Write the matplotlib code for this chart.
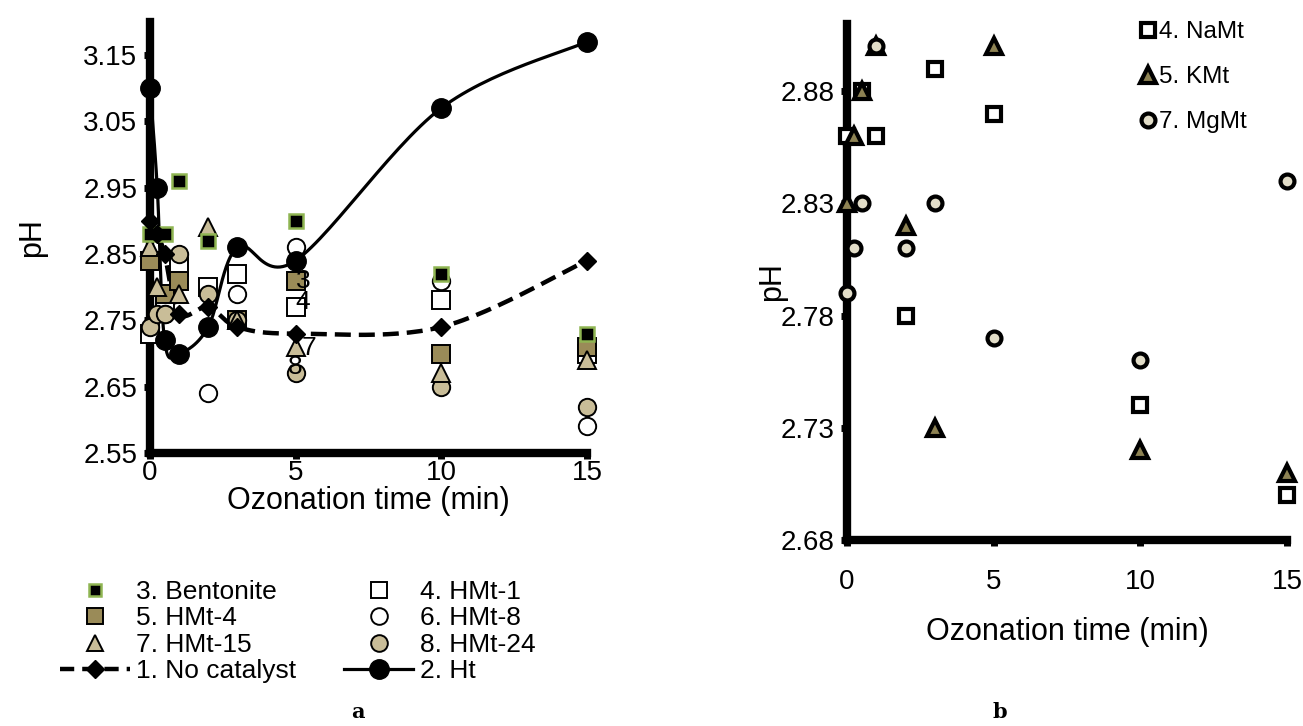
import numpy as np
import matplotlib.pyplot as plt
from matplotlib.lines import Line2D

plt.rcParams['font.family'] = ['Liberation Sans', 'DejaVu Sans']

# ---- panel a: pH vs ozonation time ----
no_cat_t = [0, 0.25, 0.5, 1, 2, 3, 5, 10, 15]
no_cat_ph = [2.90, 2.88, 2.85, 2.76, 2.77, 2.74, 2.73, 2.74, 2.84]

ht_t = [0, 0.25, 0.5, 1, 2, 3, 5, 10, 15]
ht_ph = [3.10, 2.95, 2.72, 2.70, 2.74, 2.86, 2.84, 3.07, 3.17]

bent_t = [0, 0.5, 1, 2, 5, 10, 15]
bent_ph = [2.88, 2.88, 2.96, 2.87, 2.90, 2.82, 2.73]

hmt1_t = [0, 0.5, 1, 2, 3, 5, 10, 15]
hmt1_ph = [2.73, 2.78, 2.83, 2.80, 2.82, 2.77, 2.78, 2.70]

hmt4_t = [0, 0.5, 1, 3, 5, 10, 15]
hmt4_ph = [2.84, 2.79, 2.81, 2.75, 2.81, 2.70, 2.71]

hmt8_t = [0.5, 2, 3, 5, 10, 15]
hmt8_ph = [2.76, 2.64, 2.79, 2.86, 2.81, 2.59]

hmt15_t = [0, 0.25, 1, 2, 3, 5, 10, 15]
hmt15_ph = [2.86, 2.80, 2.79, 2.89, 2.75, 2.71, 2.67, 2.69]

hmt24_t = [0, 0.25, 0.5, 1, 2, 3, 5, 10, 15]
hmt24_ph = [2.74, 2.76, 2.76, 2.85, 2.79, 2.75, 2.67, 2.65, 2.62]

# series numbers written next to the points at 5 min
tag_text = ['3', '4', '7', '8']
tag_t = [5.25, 5.25, 5.45, 5.0]
tag_ph = [2.81, 2.777, 2.708, 2.68]

# ---- panel b ----
namt_t = [0, 0.5, 1, 2, 3, 5, 10, 15]
namt_ph = [2.86, 2.88, 2.86, 2.78, 2.89, 2.87, 2.74, 2.70]

kmt_t = [0, 0.25, 0.5, 1, 2, 3, 5, 10, 15]
kmt_ph = [2.83, 2.86, 2.88, 2.90, 2.82, 2.73, 2.90, 2.72, 2.71]

mgmt_t = [0, 0.25, 0.5, 1, 2, 3, 5, 10, 15]
mgmt_ph = [2.79, 2.81, 2.83, 2.90, 2.81, 2.83, 2.77, 2.76, 2.84]

GREEN = '#8fb552'
OLIVE = '#9a8b58'
TAN = '#c9bd98'
KOLIVE = '#8d8253'
BEIGE = '#e2ddc8'


def smooth(x, y, sx, sy, n=30):
    # excel style smoothed line: cubic bezier with 1/6 neighbour tangents,
    # computed in screen-like units so the shape is not distorted
    P = np.column_stack([np.asarray(x) * sx, np.asarray(y) * sy])
    out = [P[:1]]
    s = np.linspace(0, 1, n)[1:, None]
    for i in range(len(P) - 1):
        p0 = P[i - 1] if i > 0 else P[i]
        p1, p2 = P[i], P[i + 1]
        p3 = P[i + 2] if i + 2 < len(P) else P[i + 1]
        c1 = p1 + (p2 - p0) / 6
        c2 = p2 - (p3 - p1) / 6
        seg = ((1 - s) ** 3) * p1 + 3 * ((1 - s) ** 2) * s * c1 + 3 * (1 - s) * s ** 2 * c2 + s ** 3 * p2
        out.append(seg)
    P = np.vstack(out)
    return P[:, 0] / sx, P[:, 1] / sy


def style_axes(ax):
    for side in ['top', 'right']:
        ax.spines[side].set_visible(False)
    for side in ['left', 'bottom']:
        ax.spines[side].set_linewidth(6)
        ax.spines[side].set_capstyle('projecting')
    ax.tick_params(direction='out', length=4, width=5, labelsize=20, pad=5)


fig = plt.figure(figsize=(13.03, 7.26), dpi=100)

ax = fig.add_axes([0.1151, 0.376, 0.3354, 0.594])
style_axes(ax)
ax.tick_params(axis='x', pad=1)

sx, sy = 29.13, 663.0
xs, ys = smooth(no_cat_t, no_cat_ph, sx, sy)
ax.plot(xs, ys, color='black', lw=3.2, dashes=(3.6, 1.8), zorder=3, clip_on=False)
xs, ys = smooth(ht_t, ht_ph, sx, sy)
ax.plot(xs, ys, color='black', lw=2.3, zorder=3, clip_on=False)

sc = dict(linestyle='none', clip_on=False, zorder=4)
ax.plot(hmt1_t, hmt1_ph, marker='s', ms=12.5, mfc='white', mec='black', mew=1.4, **sc)
ax.plot(hmt4_t, hmt4_ph, marker='s', ms=12.5, mfc=OLIVE, mec='black', mew=1.4, **sc)
ax.plot(hmt8_t, hmt8_ph, marker='o', ms=12.5, mfc='white', mec='black', mew=1.4, **sc)
ax.plot(hmt24_t, hmt24_ph, marker='o', ms=12.5, mfc=TAN, mec='black', mew=1.4, **sc)
ax.plot(hmt15_t, hmt15_ph, marker='^', ms=13, mfc=TAN, mec='black', mew=1.4, **sc)
ax.plot(bent_t, bent_ph, marker='s', ms=10, mfc='black', mec=GREEN, mew=1.8, **sc)
ax.plot(no_cat_t, no_cat_ph, marker='D', ms=9, mfc='black', mec='black', linestyle='none',
        clip_on=False, zorder=5)
ax.plot(ht_t, ht_ph, marker='o', ms=14, mfc='black', mec='black', linestyle='none',
        clip_on=False, zorder=5)

for s_, tx, py in zip(tag_text, tag_t, tag_ph):
    ax.text(tx, py, s_, fontsize=19, ha='center', va='center', zorder=6)

ax.set_xlim(0, 15)
ax.set_ylim(2.55, 3.20)
ax.set_xticks([0, 5, 10, 15])
ax.set_yticks(np.arange(2.55, 3.16, 0.1))
ax.set_yticklabels(['%.2f' % v for v in np.arange(2.55, 3.16, 0.1)])
ax.set_xlabel('Ozonation time (min)', fontsize=22, labelpad=0)
ax.set_ylabel('pH', fontsize=22, labelpad=26)

handles = [
    Line2D([], [], ls='none', marker='s', ms=9, mfc='black', mec=GREEN, mew=1.8),
    Line2D([], [], ls='none', marker='s', ms=12, mfc=OLIVE, mec='black', mew=1.4),
    Line2D([], [], ls='none', marker='^', ms=12, mfc=TAN, mec='black', mew=1.4),
    Line2D([], [], color='black', lw=3.2, dashes=(3.2, 1.8), marker='D', ms=9),
    Line2D([], [], ls='none', marker='s', ms=12, mfc='white', mec='black', mew=1.4),
    Line2D([], [], ls='none', marker='o', ms=12, mfc='white', mec='black', mew=1.4),
    Line2D([], [], ls='none', marker='o', ms=12, mfc=TAN, mec='black', mew=1.4),
    Line2D([], [], color='black', lw=2.3, marker='o', ms=14),
]
labels = ['3. Bentonite', '5. HMt-4', '7. HMt-15', '1. No catalyst',
          '4. HMt-1', '6. HMt-8', '8. HMt-24', '2. Ht']
fig.legend(handles, labels, ncol=2, loc='upper left', bbox_to_anchor=(0.046, 0.201),
           bbox_transform=fig.transFigure, frameon=False, fontsize=19,
           handlelength=2.65, handletextpad=0.25, labelspacing=0.09, columnspacing=1.78,
           borderaxespad=0, borderpad=0)

# ---- panel b ----
bx = fig.add_axes([0.650, 0.2562, 0.3377, 0.711])
style_axes(bx)
bx.tick_params(axis='x', pad=17)
sb = dict(linestyle='none', clip_on=False, zorder=4)
bx.plot(namt_t, namt_ph, marker='s', ms=10, mfc='white', mec='black', mew=3, label='4. NaMt', **sb)
bx.plot(kmt_t, kmt_ph, marker='^', ms=11, mfc=KOLIVE, mec='black', mew=3, label='5. KMt', **sb)
bx.plot(mgmt_t, mgmt_ph, marker='o', ms=10, mfc=BEIGE, mec='black', mew=3, label='7. MgMt', **sb)
bx.set_xlim(0, 15)
bx.set_ylim(2.68, 2.91)
bx.set_xticks([0, 5, 10, 15])
bx.set_yticks(np.arange(2.68, 2.89, 0.05))
bx.set_yticklabels(['%.2f' % v for v in np.arange(2.68, 2.89, 0.05)])
bx.set_xlabel('Ozonation time (min)', fontsize=22, labelpad=16)
bx.set_ylabel('pH', fontsize=22, labelpad=-5)
bx.legend(loc='upper left', bbox_to_anchor=(0.668, 1.005), frameon=False, fontsize=17.5,
          handlelength=0.6, handletextpad=0.15, labelspacing=0.95, borderaxespad=0,
          borderpad=0)

fig.text(358 / 1303, 1 - 712 / 726, 'a', fontsize=15, fontweight='bold',
         family='DejaVu Serif', ha='center', va='center')
fig.text(1000 / 1303, 1 - 712 / 726, 'b', fontsize=15, fontweight='bold',
         family='DejaVu Serif', ha='center', va='center')

fig.savefig('out.png', dpi=100)
